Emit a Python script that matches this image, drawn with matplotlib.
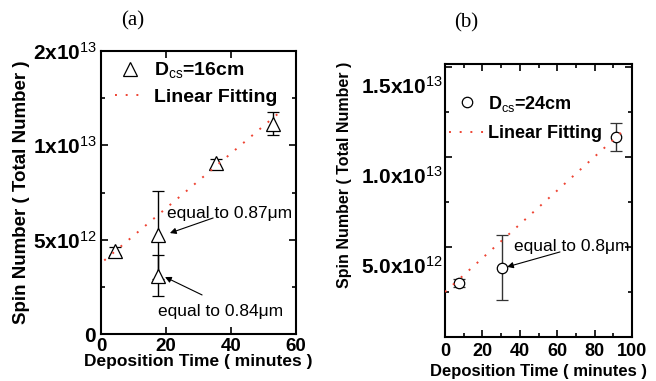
import matplotlib
matplotlib.use("Agg")
import matplotlib.pyplot as plt
from matplotlib.lines import Line2D
from matplotlib.transforms import ScaledTranslation
from matplotlib.ticker import MultipleLocator

plt.rcParams['font.family'] = ['Liberation Sans', 'DejaVu Sans']
plt.rcParams['mathtext.fontset'] = 'custom'
plt.rcParams['mathtext.rm'] = 'Liberation Sans'
plt.rcParams['mathtext.bf'] = 'Liberation Sans:bold'
plt.rcParams['mathtext.it'] = 'Liberation Sans:italic'

# ---- data panel (a) ----
a_time = [4.3, 17.6, 17.6, 35.3, 52.8]
a_spin = [4.4e12, 5.25e12, 3.1e12, 9.05e12, 11.15e12]
a_err = [0.2e12, 2.35e12, 1.1e12, 0.25e12, 0.62e12]
a_fit_x = [1.0, 56.0]
a_fit_y = [3.9e12, 11.9e12]
a_yticks = [0, 5e12, 1e13, 1.5e13]
a_yticklabels = [r'$\mathbf{0}$', r'$\mathbf{5x10}^{\mathrm{12}}$',
                 r'$\mathbf{1x10}^{\mathrm{13}}$', r'$\mathbf{2x10}^{\mathrm{13}}$']
a_xticks = [0, 20, 40, 60]

# ---- data panel (b) ----
b_time = [7.5, 30.3, 91.2]
b_spin = [3.0e12, 3.85e12, 11.1e12]
b_err = [0.2e12, 1.8e12, 0.8e12]
b_fit_x = [0.0, 97.0]
b_fit_y = [2.5e12, 11.6e12]
b_yticks = [5e12, 1e13, 1.5e13]
b_yticklabels = [r'$\mathbf{5.0x10}^{\mathrm{12}}$', r'$\mathbf{1.0x10}^{\mathrm{13}}$',
                 r'$\mathbf{1.5x10}^{\mathrm{13}}$']
b_xticks = [0, 20, 40, 60, 80, 100]

W, H = 656, 381
fig = plt.figure(figsize=(W / 100, H / 100), dpi=100)

def px_axes(l, t, r, b):
    return fig.add_axes([l / W, (H - b) / H, (r - l) / W, (b - t) / H])

fit_color = '#ee4433'

def style(ax):
    for s in ax.spines.values():
        s.set_linewidth(1.5)
    ax.tick_params(which='both', direction='in', top=True, right=True,
                   width=1.2)
    ax.tick_params(which='major', length=5)
    ax.tick_params(which='minor', length=3)

# ---------------- panel (a) ----------------
ax = px_axes(101, 51, 296, 334)
ax.plot(a_fit_x, a_fit_y, linestyle=(0, (1, 4.5)), color=fit_color, lw=1.4,
        zorder=3)
ax.errorbar(a_time, a_spin, yerr=a_err, fmt='^', ms=10, mfc='white', mec='black',
            mew=0.9, ecolor='black', elinewidth=1.0, capsize=4, capthick=1.0,
            zorder=2)
ax.set_xlim(0, 60)
ax.set_ylim(0, 1.5e13)
ax.set_xticks(a_xticks)
ax.set_xticklabels([str(v) for v in a_xticks], fontsize=13.5, fontweight='bold')
ax.set_yticks(a_yticks)
ax.set_yticklabels(a_yticklabels, fontsize=15)
ax.yaxis.set_minor_locator(MultipleLocator(2.5e12))
style(ax)
ax.tick_params(axis='x', pad=3)
ax.tick_params(axis='y', pad=3)
ax.set_xlabel('Deposition Time ( minutes )', fontsize=12.5, fontweight='bold',
              labelpad=-0.5)
ax.set_ylabel('Spin Number ( Total Number )', fontsize=13.5, fontweight='bold',
              labelpad=2)
h1 = Line2D([], [], marker='^', ls='none', ms=10, mfc='white', mec='black', mew=0.9)
h2 = Line2D([], [], ls=(0, (1, 4.5)), color=fit_color, lw=1.4)
ax.legend([h1, h2], [r'$\mathbf{D}_{\mathrm{cs}}$=16cm', 'Linear Fitting'],
          loc='upper left', bbox_to_anchor=(0.0, 1.015), frameon=False,
          prop={'size': 14, 'weight': 'bold'}, handlelength=1.55,
          handletextpad=0.5, labelspacing=0.42, borderaxespad=0.3)
ax.text(20.3, 6.41e12, 'equal to 0.87\u03bcm', fontsize=12.5, va='center', ha='left')
ax.annotate('', xy=(21.2, 5.35e12), xytext=(34.5, 6.15e12),
            arrowprops=dict(arrowstyle='-|>', color='black', lw=0.8,
                            mutation_scale=9, shrinkA=0, shrinkB=0))
ax.text(17.5, 1.17e12, 'equal to 0.84\u03bcm', fontsize=12.5, va='center', ha='left')
ax.annotate('', xy=(19.7, 3.02e12), xytext=(31.1, 2.07e12),
            arrowprops=dict(arrowstyle='-|>', color='black', lw=0.8,
                            mutation_scale=9, shrinkA=0, shrinkB=0))

# ---------------- panel (b) ----------------
bx = px_axes(445, 64, 632, 337)
bx.plot(b_fit_x, b_fit_y, linestyle=(0, (1, 4.5)), color=fit_color, lw=1.4,
        zorder=3)
bx.errorbar(b_time, b_spin, yerr=b_err, fmt='o', ms=7.5, mfc='white', mec='black',
            mew=0.9, ecolor='#333333', elinewidth=1.0, capsize=4, capthick=1.0,
            zorder=2)
bx.set_xlim(0, 100)
bx.set_ylim(0, 1.515e13)
bx.set_xticks(b_xticks)
bx.set_xticklabels([str(v) for v in b_xticks], fontsize=13, fontweight='bold')
bx.xaxis.set_minor_locator(MultipleLocator(10))
bx.set_yticks(b_yticks)
bx.set_yticklabels(b_yticklabels, fontsize=15)
bx.yaxis.set_minor_locator(MultipleLocator(2.5e12))
style(bx)
bx.tick_params(axis='x', pad=4)
bx.tick_params(axis='y', pad=2)
for lab in bx.get_yticklabels():
    lab.set_transform(lab.get_transform() +
                      ScaledTranslation(0, -18 / 100, fig.dpi_scale_trans))
bx.set_xlabel('Deposition Time ( minutes )', fontsize=12, fontweight='bold',
              labelpad=3)
bx.set_ylabel('Spin Number ( Total Number )', fontsize=11.5, fontweight='bold')
bx.yaxis.set_label_coords(-0.50, 0.593)
k1 = Line2D([], [], marker='o', ls='none', ms=7.5, mfc='white', mec='black', mew=0.9)
k2 = Line2D([], [], ls=(0, (1, 4.5)), color=fit_color, lw=1.4)
bx.legend([k1, k2], [r'$\mathbf{D}_{\mathrm{cs}}$=24cm', 'Linear Fitting'],
          loc='upper left', bbox_to_anchor=(-0.025, 0.925), frameon=False,
          prop={'size': 13, 'weight': 'bold'}, handlelength=1.9,
          handletextpad=0.25, labelspacing=0.65, borderaxespad=0.1)
bx.text(36.9, 5.0e12, 'equal to 0.8\u03bcm', fontsize=12.5, va='center', ha='left')
bx.annotate('', xy=(33.2, 3.89e12), xytext=(61.5, 4.72e12),
            arrowprops=dict(arrowstyle='-|>', color='black', lw=0.8,
                            mutation_scale=9, shrinkA=0, shrinkB=0))

fig.text(133 / W, 1 - 21 / H, '(a)', family='Liberation Serif', fontsize=15,
         ha='center', va='center')
fig.text(466 / W, 1 - 23 / H, '(b)', family='Liberation Serif', fontsize=15,
         ha='center', va='center')

fig.savefig('out.png', dpi=100)
